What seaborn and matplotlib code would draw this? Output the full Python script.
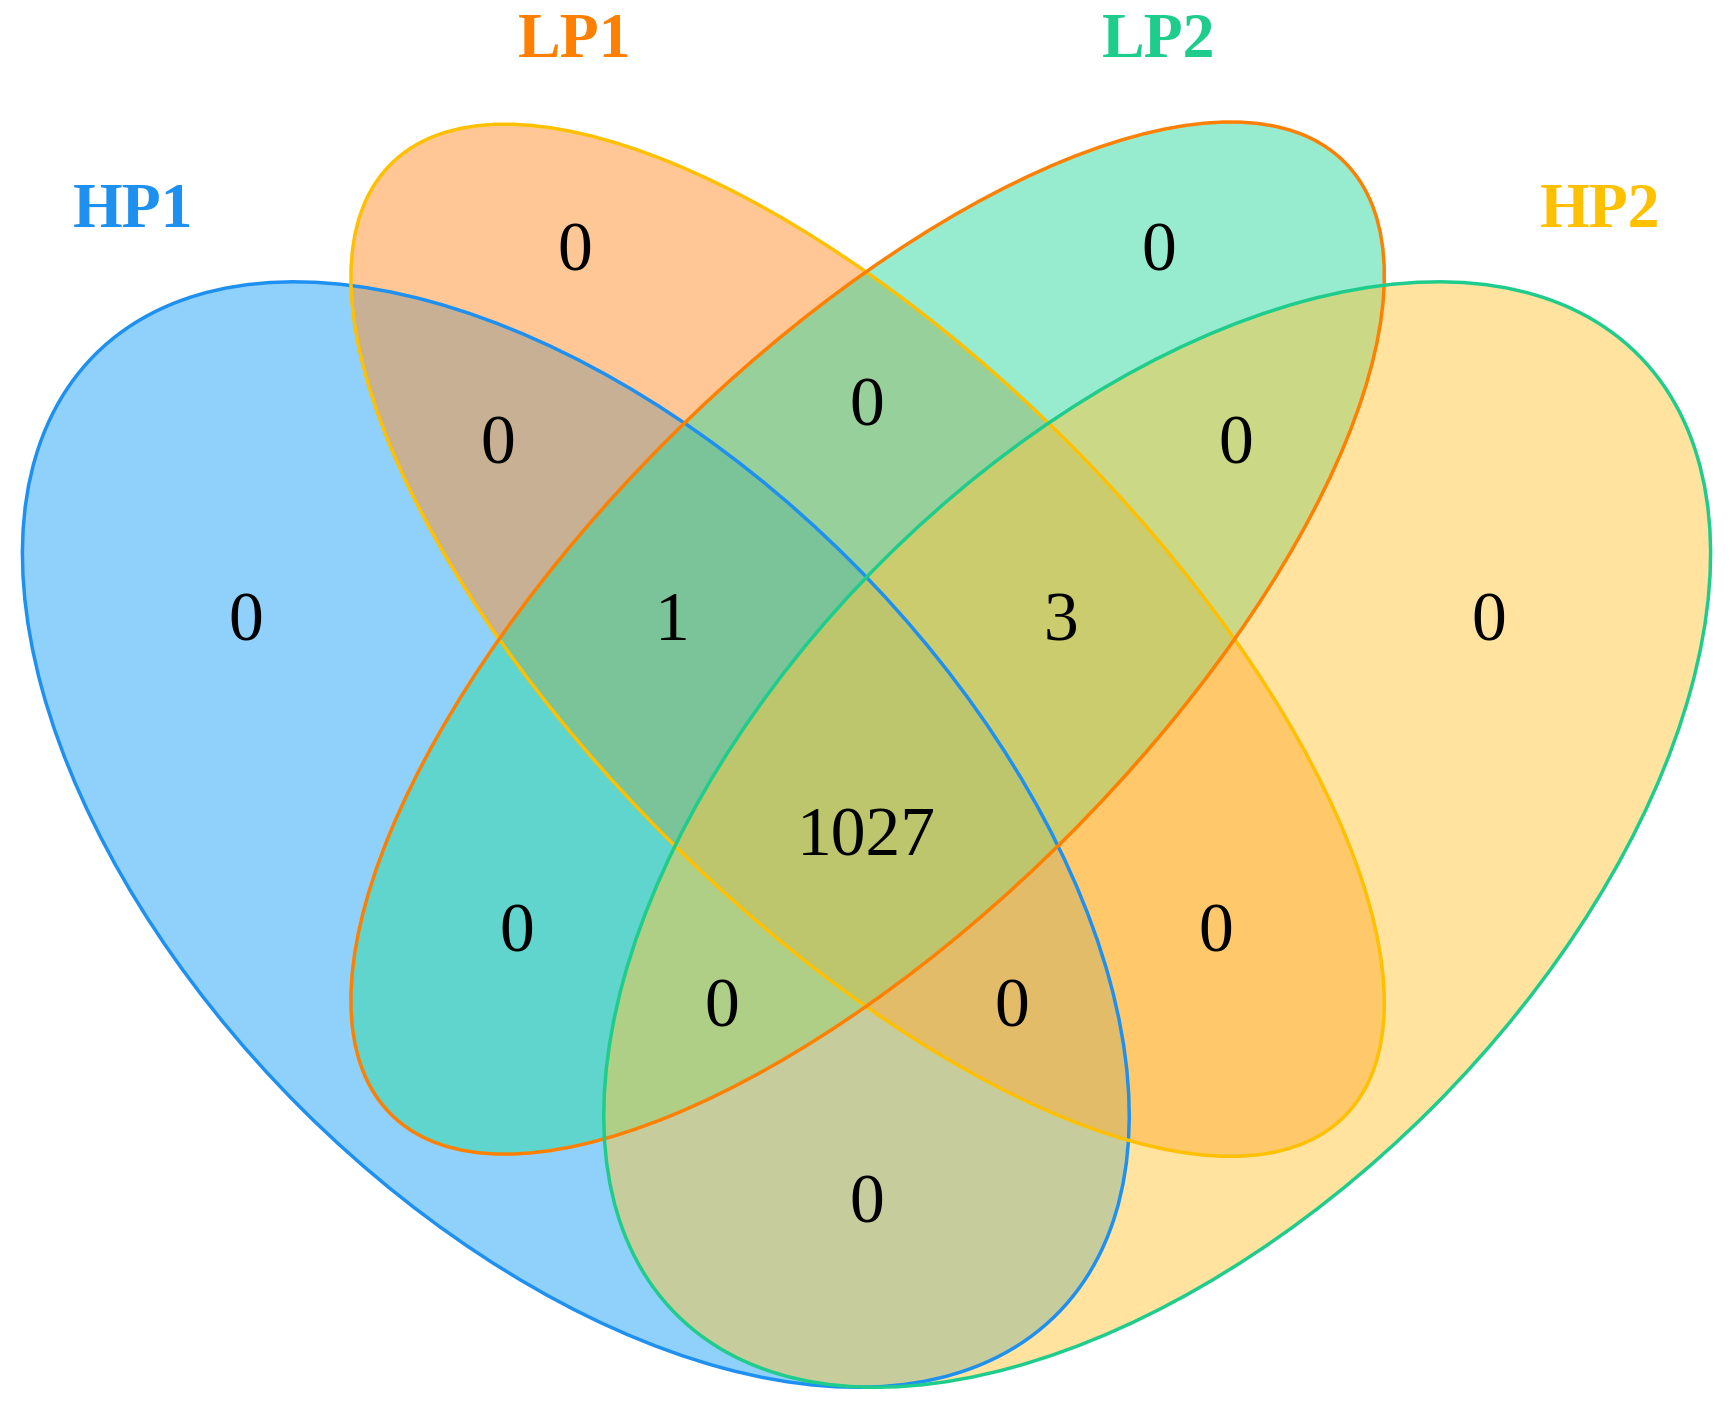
import matplotlib.pyplot as plt
import seaborn as sns
from matplotlib.patches import Ellipse

sns.set_theme(style="white")
plt.rcParams['font.family'] = 'serif'
plt.rcParams['font.serif'] = ['Liberation Serif', 'Times New Roman', 'DejaVu Serif']

# sets
set_names = ["HP1", "LP1", "LP2", "HP2"]
set_colors = ["#1E90F0", "#FF8000", "#1ECC8C", "#FFC000"]
fill_colors = ["#21A5F9", "#FF912D", "#31D9A1", "#FFC941"]
edge_colors = ["#1E90F0", "#FFC000", "#FF8000", "#1ECC8C"]

# region counts
region_counts = [0, 0, 0, 0, 0, 0, 0, 1, 3, 0, 0, 0, 0, 1027, 0]

# geometry (image pixel coordinates)
centers = [(521, 756), (785, 580), (785, 578), (1047, 756)]
widths = [1230, 1220, 1220, 1230]
heights = [702, 510, 510, 702]
angles = [45, 45, -45, -45]
label_pos = [(120, 192), (520, 38), (1048, 38), (1448, 192)]
count_pos = [(222, 565), (520, 230), (1048, 230), (1347, 565),
             (450, 405), (784, 370), (1118, 405),
             (608, 565), (960, 565),
             (468, 847), (1100, 847), (653, 915), (915, 915),
             (784, 760), (784, 1092)]

fig = plt.figure(figsize=(17.33, 14.13), dpi=100)
ax = fig.add_axes([0, 0, 1, 1])
ax.set_xlim(0, 1568)
ax.set_ylim(1280, 0)
ax.axis("off")

for c, w, h, a, fc in zip(centers, widths, heights, angles, fill_colors):
    ax.add_patch(Ellipse(c, w, h, angle=a, facecolor=fc, alpha=0.5, edgecolor="none"))
for c, w, h, a, ec in zip(centers, widths, heights, angles, edge_colors):
    ax.add_patch(Ellipse(c, w, h, angle=a, facecolor="none", edgecolor=ec, lw=2.5))

for name, col, (x, y) in zip(set_names, set_colors, label_pos):
    ax.text(x, y, name, color=col, fontsize=46, fontweight="bold", ha="center", va="center")
for v, (x, y) in zip(region_counts, count_pos):
    ax.text(x, y, str(v), color="black", fontsize=50, ha="center", va="center")

fig.savefig("out.png", dpi=100)
